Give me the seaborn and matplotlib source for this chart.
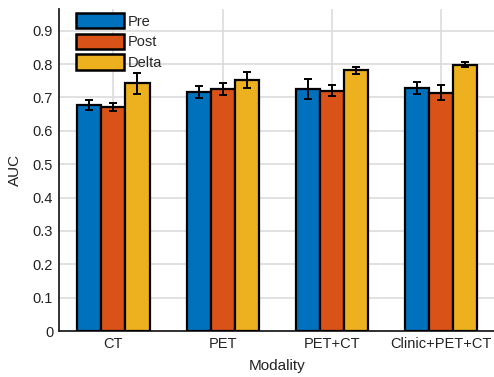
import numpy as np
import pandas as pd
import matplotlib
matplotlib.use("Agg")
import matplotlib.pyplot as plt
import seaborn as sns

# =========================
# Data
# =========================
modalities = ["CT", "PET", "PET+CT", "Clinic+PET+CT"]
groups = ["Pre", "Post", "Delta"]
auc_pre = [0.677, 0.716, 0.725, 0.728]
auc_post = [0.671, 0.725, 0.720, 0.714]
auc_delta = [0.742, 0.752, 0.781, 0.798]
err_pre = [0.014, 0.019, 0.029, 0.018]
err_post = [0.013, 0.019, 0.017, 0.022]
err_delta = [0.031, 0.023, 0.010, 0.008]

colors = ["#0072BD", "#D95319", "#EDB120"]

df = pd.DataFrame({
    "Modality": modalities * 3,
    "Group": [g for g in groups for _ in modalities],
    "AUC": auc_pre + auc_post + auc_delta,
    "Err": err_pre + err_post + err_delta,
})

# =========================
# Plot
# =========================
sns.set_style("white")
plt.rcParams["font.family"] = ["Liberation Sans", "DejaVu Sans"]

fig = plt.figure(figsize=(4.94, 3.77), dpi=100)
ax = fig.add_axes([0.119, 0.122, 0.885, 0.854])

sns.barplot(data=df, x="Modality", y="AUC", hue="Group", order=modalities,
            hue_order=groups, palette=colors, saturation=1, width=0.66,
            errorbar=None, edgecolor="black", linewidth=1.6, ax=ax, zorder=3)

# error bars from the bar patches
bars = [p for p in ax.patches if p.get_height() > 0][:len(df)]
for p, e in zip(bars, df["Err"]):
    ax.errorbar(p.get_x() + p.get_width() / 2, p.get_height(), yerr=e,
                fmt="none", ecolor="black", elinewidth=1.4, capsize=3,
                capthick=1.4, zorder=4)

ax.set_xlim(-0.5, 3.5)
ax.set_ylim(0, 0.965)
ax.set_yticks(np.arange(0, 0.95, 0.1))
ax.set_yticklabels(["0"] + [f"{v:.1f}" for v in np.arange(0.1, 0.95, 0.1)])
ax.grid(True, color="#dcdcdc", linewidth=1.2, zorder=0)
ax.set_axisbelow(True)
for s in ["top", "right"]:
    ax.spines[s].set_visible(False)
for s in ["left", "bottom"]:
    ax.spines[s].set_color("#222222")
    ax.spines[s].set_linewidth(1.3)
ax.tick_params(axis="both", labelsize=10.5, colors="#222222", length=0, pad=4)
ax.set_xlabel("Modality", fontsize=11, color="#222222", labelpad=6)
ax.set_ylabel("AUC", fontsize=11, color="#222222", labelpad=8)

leg = ax.legend(loc="upper left", bbox_to_anchor=(0.02, 1.015), frameon=False,
                fontsize=10.5, handlelength=3.3, handleheight=1.25,
                handletextpad=0.2, labelspacing=0.35, borderaxespad=0.2)
for h in leg.legend_handles:
    h.set_edgecolor("black")
    h.set_linewidth(1.8)

plt.savefig("out.png", dpi=100)
